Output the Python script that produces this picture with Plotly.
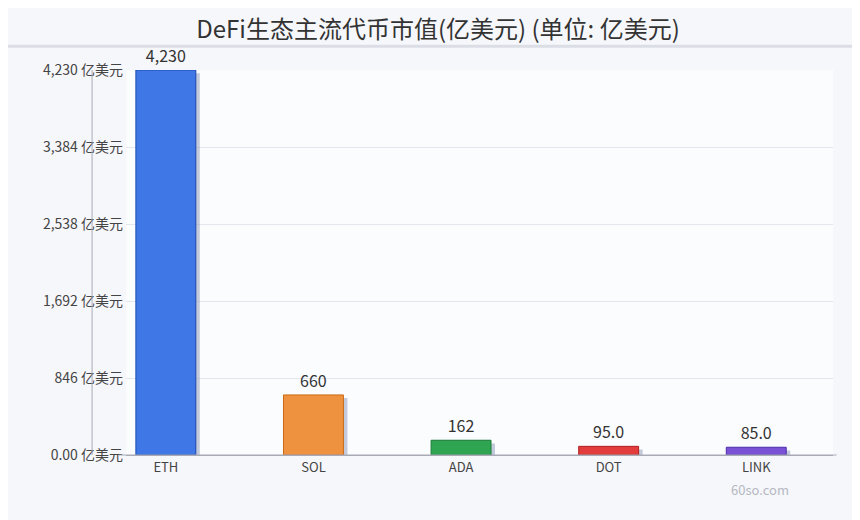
import plotly.graph_objects as go

coins = ["ETH", "SOL", "ADA", "DOT", "LINK"]
caps = [4230, 660, 162, 95, 85]
cap_labels = ["4,230", "660", "162", "95.0", "85.0"]
fills = ["#3f78e6", "#ef9240", "#2fa552", "#e23c3c", "#7a52d6"]
edges = ["#1d48b0", "#cc6a14", "#1a7a36", "#b01f1f", "#4d2ea8"]
tick_vals = [0, 846, 1692, 2538, 3384, 4230]
tick_text = ["0.00 亿美元", "846 亿美元", "1,692 亿美元", "2,538 亿美元", "3,384 亿美元", "4,230 亿美元"]

font = "Noto Sans CJK SC, Noto Sans, sans-serif"

fig = go.Figure()
# drop shadow behind each bar
fig.add_trace(go.Bar(x=coins, y=caps, base=[-35] * len(caps), width=0.406, offset=-0.176,
                     marker=dict(color="rgba(150,160,190,0.55)", line=dict(width=0)),
                     hoverinfo="skip", showlegend=False))
fig.add_trace(go.Bar(x=coins, y=caps, width=0.406, offset=-0.203,
                     marker=dict(color=fills, line=dict(color=edges, width=1)),
                     text=cap_labels, textposition="outside", cliponaxis=False,
                     textfont=dict(size=16, color="#333"), showlegend=False))

fig.update_layout(
    width=860, height=520, barmode="overlay",
    margin=dict(l=118, r=35, t=62, b=73),
    paper_bgcolor="#f6f7fb", plot_bgcolor="#fbfcfe",
    font=dict(family=font, color="#444"),
    title=dict(text="DeFi生态主流代币市值(亿美元) (单位: 亿美元)", x=0.5, y=0.958,
               xanchor="center", yanchor="middle", font=dict(size=24, color="#333")),
    xaxis=dict(showline=True, linecolor="#a8abb5", linewidth=1, tickfont=dict(size=13),
               range=[-0.27, 4.52]),
    yaxis=dict(range=[0, 4230], tickvals=tick_vals, ticktext=tick_text, showline=False,
               gridcolor="#e3e6ee", tickfont=dict(size=14),
               zeroline=False, ticks="", ticklabelstandoff=2),
    shapes=[dict(type="line", xref="paper", yref="paper", x0=-0.2, x1=1.1, y0=1.062, y1=1.062,
                 line=dict(color="#dcdee6", width=3)),
            dict(type="line", xref="paper", yref="paper", x0=-0.048, x1=-0.048, y0=0, y1=1,
                 line=dict(color="#a8abb5", width=1)),
            dict(type="line", xref="paper", yref="paper", x0=-0.01, x1=1.005, y0=0, y1=0,
                 line=dict(color="#a8abb5", width=1))],
    annotations=[dict(text="60so.com", xref="paper", yref="paper", x=0.94, y=-0.12,
                      showarrow=False, font=dict(size=13, color="#b5b8c2"))],
)

fig.write_html("out.html")
